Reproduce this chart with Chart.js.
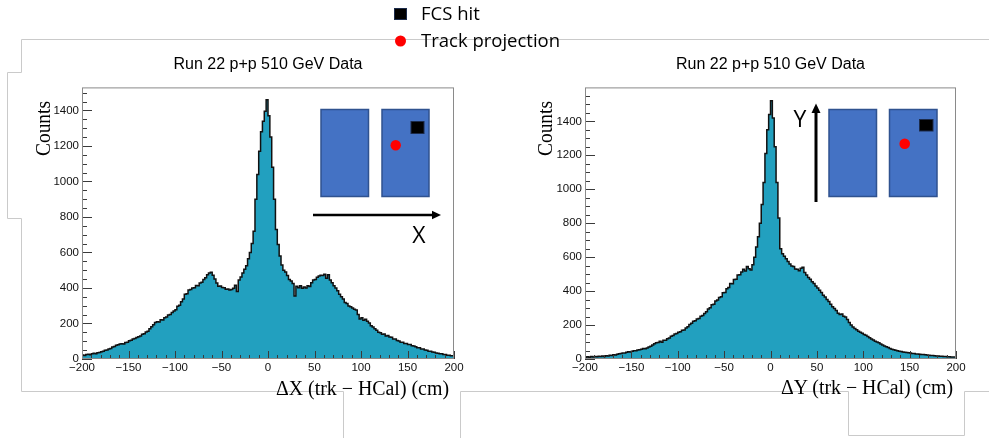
<!DOCTYPE html>
<html>
<head>
<meta charset="utf-8">
<title>FCS hit vs track projection</title>
<script src="https://cdn.jsdelivr.net/npm/chart.js@4.4.1/dist/chart.umd.min.js"></script>
<style>
  html, body { margin: 0; padding: 0; background: #fff; }
  #page { position: relative; width: 989px; height: 438px; overflow: hidden; }
  canvas { position: absolute; top: 0; }
  #dx { left: 0; }
  #dy { left: 494px; }
  #overlay { position: absolute; left: 0; top: 0; pointer-events: none; }
  .axt { font-family: "Liberation Serif", "DejaVu Serif", serif; font-size: 20px; fill: #000; }
  .leg { font-family: "Open Sans", "Noto Sans", sans-serif; font-size: 18.5px; fill: #000; }
  .dir { font-family: "Open Sans", "Noto Sans", sans-serif; font-size: 23px; fill: #000; }
</style>
</head>
<body>
<div id="page">
  <canvas id="dx" width="494" height="438"></canvas>
  <canvas id="dy" width="495" height="438"></canvas>
  <svg id="overlay" width="989" height="438" viewBox="0 0 989 438" xmlns="http://www.w3.org/2000/svg">
    <!-- leftover slide frame lines -->
    <g fill="none" stroke="#cacaca" stroke-width="1">
      <polyline points="989,39.5 21.5,39.5 21.5,72.5 7.5,72.5 7.5,218.5 21.5,218.5 21.5,391.5 343.5,391.5 343.5,438"/>
      <polyline points="460.5,438 460.5,391.5 848.5,391.5 848.5,435.5 964.5,435.5 964.5,391.5 989,391.5"/>
    </g>

    <!-- legend -->
    <rect x="394.5" y="8.5" width="12" height="11" fill="#000" stroke="#1c2b4a" stroke-width="1"/>
    <text class="leg" x="421" y="20">FCS hit</text>
    <circle cx="400.5" cy="41" r="5.5" fill="#ff0000"/>
    <text class="leg" x="421" y="47">Track projection</text>

    <!-- inset, left panel -->
    <g stroke="#2f528f" stroke-width="1.5" fill="#4472c4">
      <rect x="321" y="109.5" width="47.5" height="87"/>
      <rect x="382" y="109.5" width="47" height="87"/>
    </g>
    <rect x="411" y="121.5" width="13" height="12" fill="#000" stroke="#1c2b4a" stroke-width="1"/>
    <circle cx="395.7" cy="145.3" r="5.2" fill="#ff0000"/>
    <line x1="313" y1="215" x2="433" y2="215" stroke="#000" stroke-width="2.4"/>
    <polygon points="432,210.8 441,215 432,219.2" fill="#000"/>
    <text class="dir" x="419" y="243" text-anchor="middle">X</text>

    <!-- inset, right panel -->
    <g stroke="#2f528f" stroke-width="1.5" fill="#4472c4">
      <rect x="829" y="109.5" width="47.5" height="87"/>
      <rect x="889.5" y="109.5" width="47.5" height="87"/>
    </g>
    <rect x="919.5" y="119.5" width="13.5" height="11.5" fill="#000" stroke="#1c2b4a" stroke-width="1"/>
    <circle cx="904.7" cy="143.7" r="5.3" fill="#ff0000"/>
    <line x1="816" y1="202" x2="816" y2="112" stroke="#000" stroke-width="3"/>
    <polygon points="811.5,113 816,103.5 820.5,113" fill="#000"/>
    <text class="dir" x="800" y="127" text-anchor="middle">Y</text>

    <!-- axis titles -->
    <text class="axt" transform="translate(50,128.5) rotate(-90)" text-anchor="middle" textLength="55" lengthAdjust="spacingAndGlyphs">Counts</text>
    <text class="axt" transform="translate(552,128.5) rotate(-90)" text-anchor="middle" textLength="55" lengthAdjust="spacingAndGlyphs">Counts</text>
    <text class="axt" x="449" y="395" text-anchor="end" textLength="173" lengthAdjust="spacingAndGlyphs">ΔX (trk − HCal) (cm)</text>
    <text class="axt" x="953" y="394" text-anchor="end" textLength="172" lengthAdjust="spacingAndGlyphs">ΔY (trk − HCal) (cm)</text>
  </svg>
</div>

<script>
const chartTitle = 'Run 22 p+p 510 GeV Data';

// histogram range, 2 cm bins
const X_MIN = -200;
const X_MAX = 200;
const BIN_W = 2;

const xTicks = [-200, -150, -100, -50, 0, 50, 100, 150, 200];
const yTicks = [0, 200, 400, 600, 800, 1000, 1200, 1400];

// ΔX (trk - HCal), counts per 2 cm bin from -200 to 200
const dxCounts = [
  18, 22, 20, 25, 27, 24, 30, 32, 29, 35,
  37, 41, 43, 49, 51, 57, 59, 67, 70, 77,
  80, 84, 86, 84, 93, 95, 103, 106, 113, 116,
  121, 126, 129, 139, 142, 152, 157, 170, 182, 193,
  205, 210, 208, 221, 219, 232, 236, 248, 250, 262,
  270, 278, 297, 303, 322, 338, 365, 368, 388, 392,
  400, 402, 414, 412, 428, 433, 448, 458, 475, 484,
  488, 472, 450, 428, 410, 411, 403, 402, 393, 395,
  388, 392, 398, 415, 380, 445, 462, 484, 505, 525,
  565, 600, 650, 720, 900, 1040, 1170, 1280, 1340, 1395,
  1460, 1370, 1250, 1080, 900, 730, 645, 580, 530, 500,
  490, 470, 448, 440, 425, 355, 410, 402, 412, 398,
  405, 400, 412, 408, 430, 445, 448, 460, 468, 472,
  470, 478, 455, 475, 445, 430, 412, 400, 385, 365,
  350, 338, 318, 312, 298, 295, 288, 280, 276, 250,
  225, 232, 218, 224, 212, 203, 188, 180, 170, 162,
  150, 148, 140, 141, 130, 133, 124, 122, 113, 112,
  104, 102, 95, 94, 88, 87, 81, 82, 74, 73,
  69, 64, 63, 57, 56, 51, 49, 44, 44, 39,
  38, 34, 33, 29, 29, 25, 25, 21, 21, 18
];

// ΔY (trk - HCal), counts per 2 cm bin from -200 to 200
const dyCounts = [
  12, 10, 13, 11, 14, 12, 15, 13, 16, 14,
  17, 15, 19, 18, 22, 21, 25, 24, 28, 31,
  33, 36, 35, 40, 43, 41, 46, 49, 48, 53,
  55, 58, 62, 60, 65, 70, 75, 82, 90, 95,
  97, 104, 99, 110, 111, 120, 123, 134, 138, 148,
  150, 158, 160, 170, 171, 183, 190, 203, 210, 222,
  226, 235, 238, 252, 256, 268, 278, 295, 302, 320,
  322, 342, 347, 362, 366, 390, 392, 414, 421, 445,
  444, 468, 470, 495, 497, 512, 528, 518, 545, 532,
  525, 555, 600, 660, 720, 800, 910, 1040, 1210, 1350,
  1440, 1522, 1420, 1250, 1040, 830, 650, 620, 605, 590,
  575, 560, 548, 545, 530, 528, 520, 535, 540, 510,
  495, 480, 470, 455, 445, 430, 418, 405, 392, 375,
  365, 350, 338, 322, 308, 298, 285, 270, 262, 265,
  252, 248, 232, 215, 200, 188, 180, 172, 163, 158,
  152, 145, 140, 132, 125, 118, 112, 105, 100, 95,
  88, 82, 76, 72, 68, 62, 58, 55, 52, 48,
  46, 44, 41, 40, 38, 37, 35, 33, 32, 30,
  29, 28, 27, 26, 25, 23, 22, 21, 20, 19,
  18, 17, 16, 16, 15, 14, 13, 13, 12, 12
];

// step outline, closed down to zero at both ends like a ROOT TH1
function histPoints(counts) {
  const pts = [{ x: X_MIN, y: 0 }];
  counts.forEach((c, i) => pts.push({ x: X_MIN + i * BIN_W, y: c }));
  pts.push({ x: X_MAX, y: counts[counts.length - 1] });
  pts.push({ x: X_MAX, y: 0 });
  return pts;
}

const fmt = v => (v < 0 ? '\u2212' + Math.abs(v) : String(v));

// ROOT-like frame with inward major/minor ticks
const rootFrame = {
  id: 'rootFrame',
  afterDatasetsDraw(chart) {
    const { ctx, chartArea: a, scales: { x, y } } = chart;
    ctx.save();
    ctx.strokeStyle = '#3a3a3a';
    ctx.lineWidth = 1;
    ctx.beginPath();
    const xv = x.ticks.map(t => t.value);
    xv.forEach((v, i) => {
      const px = Math.round(x.getPixelForValue(v)) + 0.5;
      ctx.moveTo(px, a.bottom); ctx.lineTo(px, a.bottom - 8);
      if (i < xv.length - 1) {
        const step = (xv[i + 1] - v) / 5;
        for (let k = 1; k < 5; k++) {
          const mx = Math.round(x.getPixelForValue(v + k * step)) + 0.5;
          ctx.moveTo(mx, a.bottom); ctx.lineTo(mx, a.bottom - 4);
        }
      }
    });
    const yv = y.ticks.map(t => t.value);
    const ystep = (yv[1] - yv[0]) / 4;
    yv.forEach(v => {
      const py = Math.round(y.getPixelForValue(v)) + 0.5;
      ctx.moveTo(a.left, py); ctx.lineTo(a.left + 10, py);
      for (let k = 1; k < 4; k++) {
        const mv = v + k * ystep;
        if (mv > y.max) break;
        const my = Math.round(y.getPixelForValue(mv)) + 0.5;
        ctx.moveTo(a.left, my); ctx.lineTo(a.left + 5, my);
      }
    });
    ctx.stroke();
    ctx.strokeStyle = '#8a8a8a';
    ctx.strokeRect(a.left + 0.5, a.top + 0.5, a.width - 1, a.height - 1);
    ctx.restore();
  }
};

function makeHist(canvasId, counts, yMax, pad) {
  return new Chart(document.getElementById(canvasId), {
    type: 'line',
    data: {
      datasets: [{
        data: histPoints(counts),
        stepped: 'after',
        fill: 'origin',
        backgroundColor: '#22a0bf',
        borderColor: '#111111',
        borderWidth: 1.5,
        pointRadius: 0,
        tension: 0
      }]
    },
    options: {
      responsive: false,
      animation: false,
      events: [],
      layout: { padding: pad },
      plugins: {
        legend: { display: false },
        tooltip: { enabled: false },
        title: {
          display: true,
          text: chartTitle,
          fullSize: false,
          color: '#000',
          font: { family: 'Liberation Sans, Arial, sans-serif', size: 16, weight: 'normal' },
          padding: { top: 0, bottom: 12.8 }
        }
      },
      scales: {
        x: {
          type: 'linear',
          min: X_MIN,
          max: X_MAX,
          grid: { display: false, drawTicks: false },
          border: { display: false },
          afterBuildTicks: s => { s.ticks = xTicks.map(v => ({ value: v })); },
          afterFit: s => { s.height = 30; },
          ticks: {
            autoSkip: false,
            maxRotation: 0,
            padding: 2,
            color: '#111',
            font: { family: 'Liberation Sans, Arial, sans-serif', size: 11.5 },
            callback: v => fmt(v)
          }
        },
        y: {
          min: 0,
          max: yMax,
          grid: { display: false, drawTicks: false },
          border: { display: false },
          afterBuildTicks: s => { s.ticks = yTicks.map(v => ({ value: v })); },
          afterFit: s => { s.width = 40; },
          ticks: {
            padding: 3,
            color: '#111',
            font: { family: 'Liberation Sans, Arial, sans-serif', size: 11.5 },
            callback: v => fmt(v)
          }
        }
      }
    },
    plugins: [rootFrame]
  });
}

makeHist('dx', dxCounts, 1530, { left: 42, right: 40, top: 55.4, bottom: 49 });
makeHist('dy', dyCounts, 1600, { left: 51, right: 33, top: 55.4, bottom: 49 });
</script>
</body>
</html>
